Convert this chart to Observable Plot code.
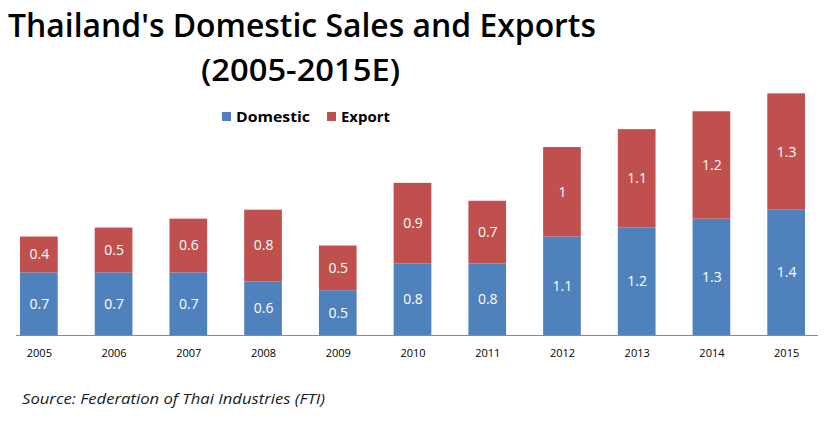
<!DOCTYPE html>
<html><head><meta charset="utf-8">
<script src="https://cdn.jsdelivr.net/npm/d3@7"></script>
<script src="https://cdn.jsdelivr.net/npm/@observablehq/plot@0.6"></script>
<style>
body{margin:0;background:#fff;}
#wrap{position:relative;width:830px;height:423px;overflow:hidden;font-family:"Open Sans",sans-serif;}
#wrap svg{position:absolute;left:0;top:0;}
.abs{position:absolute;white-space:nowrap;line-height:1;transform-origin:0 0;}
.sw{position:absolute;width:9px;height:9px;}
</style></head><body><div id="wrap"></div>
<script>
const years = ["2005","2006","2007","2008","2009","2010","2011","2012","2013","2014","2015"];
const domestic = [0.7,0.7,0.7,0.6,0.5,0.8,0.8,1.1,1.2,1.3,1.4];
const exportSales = [0.4,0.5,0.6,0.8,0.5,0.9,0.7,1.0,1.1,1.2,1.3];
const seriesNames = ["Domestic","Export"];
const seriesColors = ["#4F81BD","#C0504D"];
const titleText = "Thailand's Domestic Sales and Exports";
const subtitleText = "(2005-2015E)";
const sourceText = "Source: Federation of Thai Industries (FTI)";

const data = years.flatMap((y,i)=>[
  {year:y, series:seriesNames[0], value:domestic[i]},
  {year:y, series:seriesNames[1], value:exportSales[i]}
]);

const chart = Plot.plot({
  width:830, height:370,
  marginLeft:16, marginRight:12, marginTop:66.5, marginBottom:35,
  x:{domain:years, range:[20,805], paddingInner:0.4955, paddingOuter:0, round:false, label:null},
  y:{domain:[0,3], axis:null},
  color:{domain:seriesNames, range:seriesColors},
  style:{fontFamily:"Open Sans", background:"transparent", overflow:"visible"},
  marks:[
    Plot.barY(data, {x:"year", y:"value", fill:"series"}),
    Plot.text(data, Plot.stackY({x:"year", y:"value", z:"series", text:d=>String(d.value), fill:"white", fontSize:14})),
    Plot.ruleY([0], {stroke:"#8a8a8a"}),
    Plot.axisX({tickSize:0, tickPadding:14, fontSize:11, fill:"black", label:null})
  ]
});
const wrap = document.getElementById("wrap");
wrap.appendChild(chart);

function addText(txt, left, top, size, weight, style, color, targetW){
  const d = document.createElement("div");
  d.className = "abs";
  d.textContent = txt;
  Object.assign(d.style, {left:left+"px", top:top+"px", fontSize:size+"px", fontWeight:weight, fontStyle:style, color:color});
  wrap.appendChild(d);
  if (targetW) {
    const fit = () => { d.style.transform = "none"; const w = d.getBoundingClientRect().width; if (w>0) d.style.transform = `scaleX(${targetW/w})`; };
    fit();
    if (document.fonts && document.fonts.ready) document.fonts.ready.then(fit);
  }
  return d;
}
// title lines (baseline ≈ top + 0.888*size for Open Sans with line-height 1)
addText(titleText, 8, 37 - 0.888*33, 33, 600, "normal", "#000", 588);
addText(subtitleText, 201, 82 - 0.888*30, 30, 600, "normal", "#000", 199);
// legend
seriesNames.forEach((name,i)=>{
  const x = [222,327][i];
  const s = document.createElement("div");
  s.className = "sw";
  Object.assign(s.style,{left:x+"px", top:"112px", background:seriesColors[i]});
  wrap.appendChild(s);
  addText(name, x+14, 122 - 0.888*14, 14, 700, "normal", "#000", [74,49][i]);
});
// source
addText(sourceText, 22, 404 - 0.888*15, 15, 400, "italic", "#1a1a1a", 303);
</script>
</body></html>
